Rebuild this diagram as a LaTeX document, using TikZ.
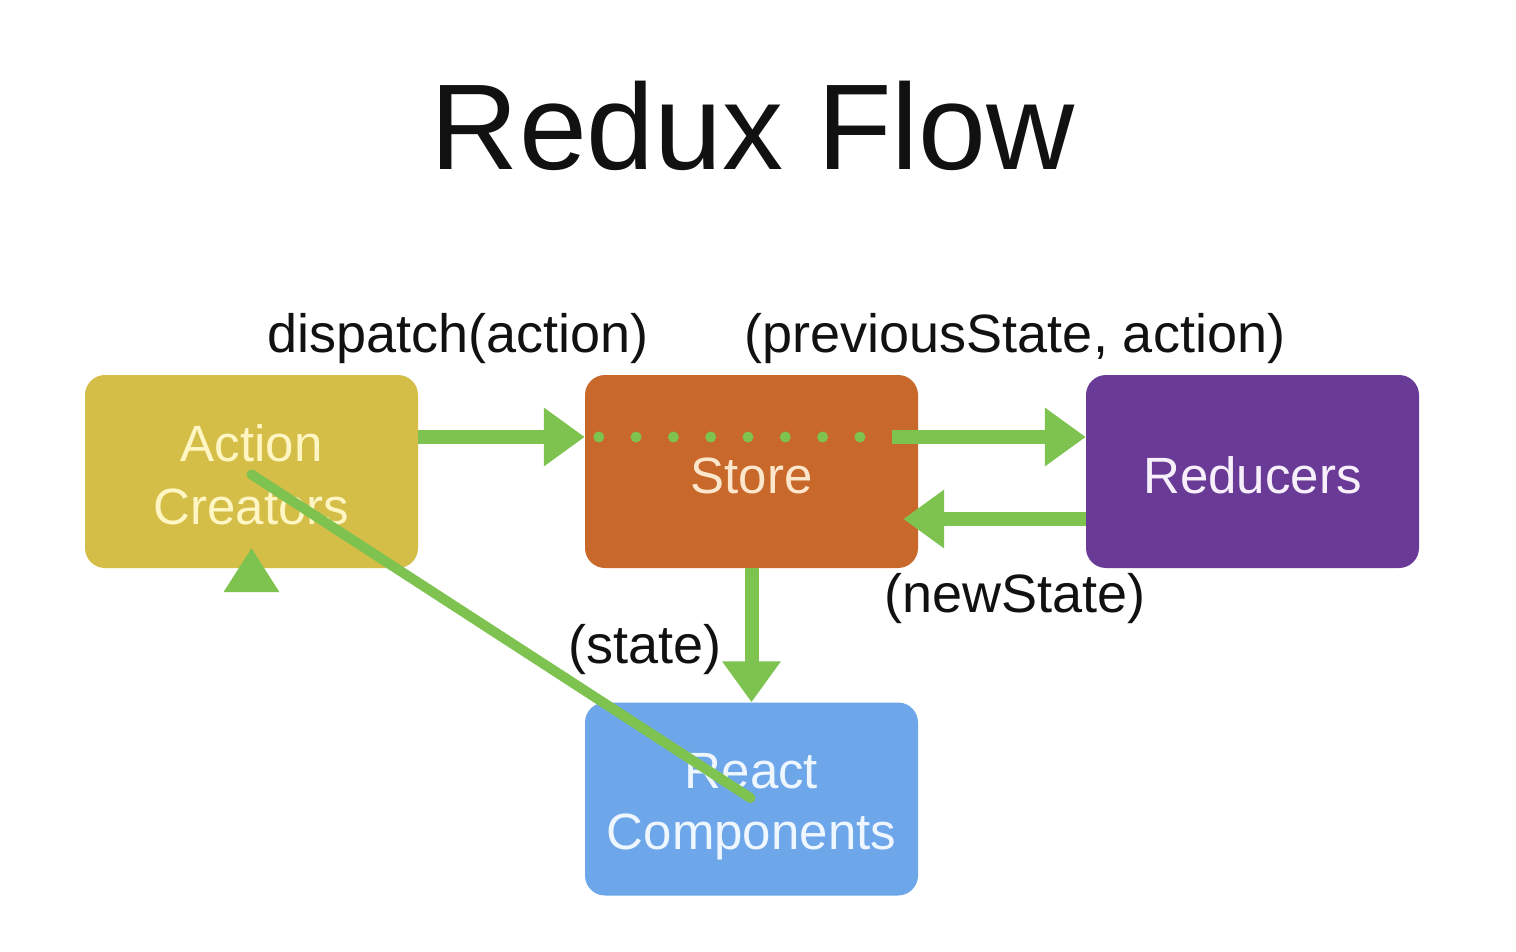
\documentclass[tikz,border=0pt]{standalone}
\usepackage{fontspec}
\setmainfont{Liberation Sans}
\usetikzlibrary{arrows.meta,calc}
\definecolor{grn}{HTML}{7EC350}
\definecolor{acfill}{HTML}{D5BE48}
\definecolor{stfill}{HTML}{C8682A}
\definecolor{rdfill}{HTML}{6A3A97}
\definecolor{rcfill}{HTML}{6EA6EA}
\definecolor{actext}{HTML}{FFF6C4}
\definecolor{sttext}{HTML}{FCE6CC}
\definecolor{rdtext}{HTML}{F7F0FA}
\definecolor{rctext}{HTML}{EEF6FF}
\definecolor{lbltext}{HTML}{111111}
\begin{document}
\begin{tikzpicture}[x=1pt,y=-1pt,
  box/.style={rounded corners=20pt, minimum width=333pt, minimum height=193pt, inner sep=0pt},
  boxtxt/.style={inner sep=0pt, align=center, font=\fontsize{51}{63}\selectfont},
  lbl/.style={font=\fontsize{54}{60}\selectfont, text=lbltext, anchor=base, inner sep=0pt},
  arr/.style={draw=grn, color=grn, line width=14pt, -{Triangle[length=41pt,width=56pt]}}]
\useasboundingbox (0,0) rectangle (1516,952);
\fill[white] (0,0) rectangle (1516,952);
\node[anchor=base, font=\fontsize{122}{130}\selectfont, inner sep=0pt, text=lbltext] (title) at (753,170) {Redux Flow};
\node[box, fill=acfill] (ac) at (251.5,471.5) {};
\node[box, fill=stfill] (st) at (751.5,471.5) {};
\node[box, fill=rdfill] (rd) at (1252.5,471.5) {};
\node[box, fill=rcfill] (rc) at (751.5,799) {};
\node[boxtxt, text=actext] (act) at ($(ac.center)+(0,3)$) {Action\\Creators};
\node[boxtxt, text=sttext] (stt) at ($(st.center)+(0,4)$) {Store};
\node[boxtxt, text=rdtext] (rdt) at ($(rd.center)+(0,4)$) {Reducers};
\node[boxtxt, text=rctext, font=\fontsize{51}{61}\selectfont] (rct) at ($(rc.center)+(0,8)$) {React\\Components};
\node[lbl] (l1) at (458,352) {dispatch(action)};
\node[lbl] (l2) at (1015,352) {(previousState, action)};
\node[lbl] (l3) at (1015,612) {(newState)};
\node[lbl] (l4) at (645,663) {(state)};
\coordinate (ytop) at (0,437);
\coordinate (ylow) at (0,519);
\draw[arr] (ac.east |- ytop) -- (st.west |- ytop);
\draw[grn, line width=11pt, line cap=round, dash pattern=on 0pt off 37.3pt] ($(st.west |- ytop)+(14,0)$) -- ($(st.west |- ytop)+(276,0)$);
\draw[arr] ($(st.east |- ytop)+(-26,0)$) -- (rd.west |- ytop);
\draw[arr] (rd.west |- ylow) -- ($(st.east |- ylow)+(-15,0)$);
\draw[arr] (st.south) -- (rc.north);
\fill[grn] ($(ac.south)+(0,-20)$) -- ($(ac.south)+(-28,24)$) -- ($(ac.south)+(28,24)$) -- cycle;
\draw[grn, line width=10pt, line cap=round] ($(ac.center)+(0,3)$) -- ($(rc.center)+(-1,-1)$);
\end{tikzpicture}
\end{document}
